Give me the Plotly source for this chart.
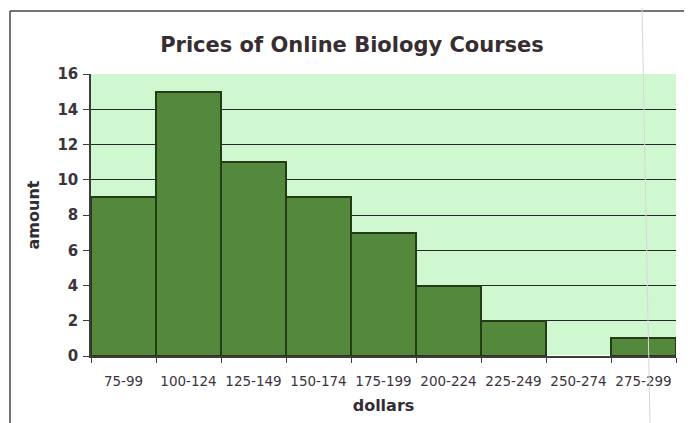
import plotly.graph_objects as go

categories = ["75-99", "100-124", "125-149", "150-174", "175-199", "200-224", "225-249", "250-274", "275-299"]
amounts = [9, 15, 11, 9, 7, 4, 2, 0, 1]
y_ticks = [0, 2, 4, 6, 8, 10, 12, 14, 16]

# the page adds an 8px body margin, so the figure is drawn offset by (8, 8)
OFF = 8
W, H = 692 - OFF, 423 - OFF
L, R, T, B = 91 - OFF, 16, 74 - OFF, 67
pw, ph = W - L - R, H - T - B

FONT = "DejaVu Sans"
TXT = "rgb(60,52,60)"

fig = go.Figure(go.Bar(
    x=categories, y=amounts, width=1,
    marker=dict(color="rgb(84,136,60)",
                line=dict(color="rgb(36,60,22)", width=[2 if a > 0 else 0 for a in amounts])),
))

fig.update_layout(
    width=W, height=H,
    margin=dict(l=L, r=R, t=T, b=B, autoexpand=False),
    paper_bgcolor="white",
    plot_bgcolor="rgb(208,248,208)",
    showlegend=False,
    bargap=0,
    title=dict(text="Prices of Online Biology Courses", x=(352 - OFF) / W, xanchor="center",
               y=1 - (45 - OFF) / H, yanchor="middle",
               font=dict(family=FONT, size=21, weight="bold", color="rgb(55,45,50)")),
    xaxis=dict(
        type="category", tickson="boundaries", ticks="outside", ticklen=5, tickcolor="rgb(60,60,60)",
        showline=True, linecolor="rgb(60,60,60)", linewidth=1.5, showgrid=False,
        ticklabelstandoff=12, tickangle=0, automargin=False,
        tickfont=dict(family=FONT, size=13.5, color=TXT),
        title=dict(text="dollars", standoff=12,
                   font=dict(family=FONT, size=16, weight="bold", color="rgb(50,45,50)")),
        range=[-0.5, 8.5],
    ),
    yaxis=dict(
        range=[0, 16], tickvals=y_ticks, ticks="outside", ticklen=6, tickcolor="rgb(60,60,60)",
        showline=True, linecolor="rgb(60,60,60)", linewidth=1.5,
        showgrid=True, gridcolor="rgb(40,40,40)", gridwidth=1.2,
        ticklabelstandoff=2, automargin=False,
        tickfont=dict(family=FONT, size=15, weight="bold", color=TXT),
        title=dict(text="amount", standoff=14,
                   font=dict(family=FONT, size=16, weight="bold", color="rgb(50,45,50)")),
    ),
)

# chart-area border (left and top edges visible in the scan)
def px(xpix):
    return (xpix - OFF - L) / pw

def py(ypix):
    return 1 - (ypix - OFF - T) / ph

fig.add_shape(type="line", xref="paper", yref="paper", x0=px(10), x1=px(684), y0=py(11), y1=py(11),
              line=dict(color="rgb(70,70,70)", width=1.5))
fig.add_shape(type="line", xref="paper", yref="paper", x0=px(10), x1=px(10), y0=py(11), y1=py(423),
              line=dict(color="rgb(70,70,70)", width=1.5))
# faint scanner line
fig.add_shape(type="line", xref="paper", yref="paper", x0=px(642), x1=px(650), y0=py(8), y1=py(423),
              line=dict(color="rgb(215,215,215)", width=1), layer="above")

fig.write_html("out.html")
